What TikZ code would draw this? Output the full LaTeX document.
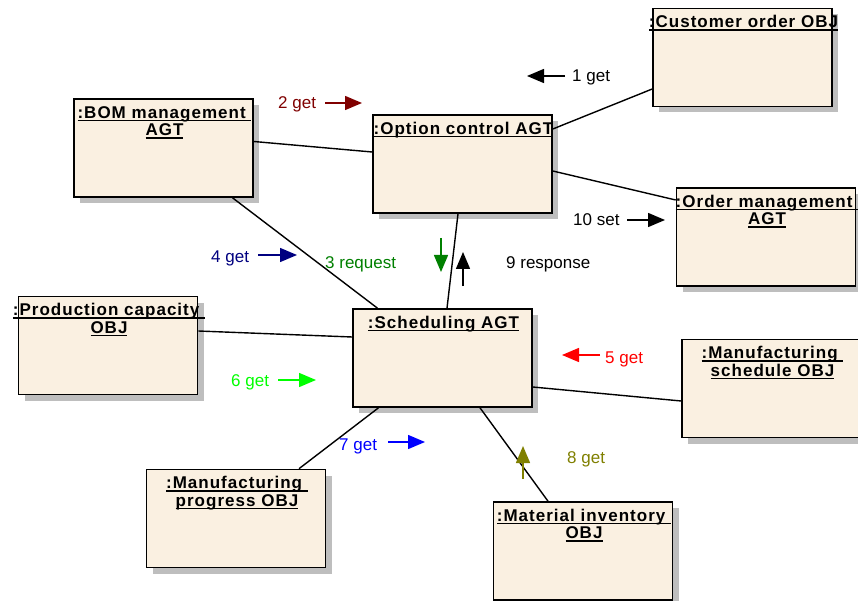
\documentclass[tikz,border=0pt]{standalone}
\usepackage{fontspec}
\setmainfont{Liberation Sans}
\newfontfamily\titlefont[LetterSpace=6]{Liberation Sans}
\usetikzlibrary{arrows.meta,shadows}

\definecolor{boxfill}{RGB}{250,240,225}
\definecolor{shadowgray}{RGB}{190,190,190}
\definecolor{msgdarkred}{RGB}{128,0,0}
\definecolor{msggreen}{RGB}{0,128,0}
\definecolor{msgnavy}{RGB}{0,0,128}
\definecolor{msgred}{RGB}{255,0,0}
\definecolor{msglime}{RGB}{0,255,0}
\definecolor{msgblue}{RGB}{0,0,255}
\definecolor{msgolive}{RGB}{128,128,0}

% underlined title line (rule drawn just below the baseline)
\newsavebox\ulbox
\newcommand\ulline[1]{\sbox\ulbox{#1}\rlap{\usebox\ulbox}\rule[-3pt]{\wd\ulbox}{1.3pt}}

\tikzset{
  objbox/.style={draw=black, line width=1.6pt, fill=boxfill,
    minimum width=179pt, minimum height=98pt, inner sep=0pt,
    drop shadow={shadow xshift=6pt, shadow yshift=-6pt, fill=shadowgray, opacity=1}},
  ttl/.style={anchor=base, inner sep=0pt, font=\titlefont\bfseries\fontsize{17}{18}\selectfont},
  link/.style={line width=1.4pt},
  msg/.style={line width=1.5pt, -{Triangle[length=17pt,width=14pt]}},
  lbl/.style={anchor=base west, inner sep=0pt, font=\fontsize{17}{19}\selectfont},
}

\begin{document}
\begin{tikzpicture}[x=1pt,y=-1pt]
\fill[white] (0,0) rectangle (858,601);
\useasboundingbox (0,0) rectangle (858,601);

% ---------- object boxes ----------
\node[objbox] (cust)  at (742.5,57.5) {};
\node[objbox] (bom)   at (163.5,148)  {};
\node[objbox] (opt)   at (462.5,164)  {};
\node[objbox] (ord)   at (766,237)    {};
\node[objbox] (prod)  at (108,345.5)  {};
\node[objbox] (sched) at (442.5,358)  {};
\node[objbox] (msch)  at (771.5,388.5){};
\node[objbox] (mprog) at (236,518.5)  {};
\node[objbox] (minv)  at (583,551)    {};

% ---------- titles ----------
\node[ttl] (custT1)  at ([shift={(1,20)}]cust.north)  {\ulline{:Customer order OBJ}};
\node[ttl] (bomT1)   at ([shift={(1,20)}]bom.north)   {\ulline{:BOM management\ }};
\node[ttl] (bomT2)   at ([shift={(1,37.5)}]bom.north) {\ulline{AGT}};
\node[ttl] (optT1)   at ([shift={(1,20)}]opt.north)   {\ulline{:Option control AGT}};
\node[ttl] (ordT1)   at ([shift={(1,20)}]ord.north)   {\ulline{:Order management\ }};
\node[ttl] (ordT2)   at ([shift={(1,37.5)}]ord.north) {\ulline{AGT}};
\node[ttl] (prodT1)  at ([shift={(1,20)}]prod.north)  {\ulline{:Production capacity\ }};
\node[ttl] (prodT2)  at ([shift={(1,37.5)}]prod.north){\ulline{OBJ}};
\node[ttl] (schedT1) at ([shift={(1,20)}]sched.north) {\ulline{:Scheduling AGT}};
\node[ttl] (mschT1)  at ([shift={(1,20)}]msch.north)  {\ulline{:Manufacturing\ }};
\node[ttl] (mschT2)  at ([shift={(1,37.5)}]msch.north){\ulline{schedule OBJ}};
\node[ttl] (mprogT1) at ([shift={(1,20)}]mprog.north) {\ulline{:Manufacturing\ }};
\node[ttl] (mprogT2) at ([shift={(1,37.5)}]mprog.north){\ulline{progress OBJ}};
\node[ttl] (minvT1)  at ([shift={(1,20)}]minv.north)  {\ulline{:Material inventory\ }};
\node[ttl] (minvT2)  at ([shift={(1,37.5)}]minv.north){\ulline{OBJ}};

% ---------- links ----------
\draw[link] ([shift={(0,31.5)}]cust.west) -- ([shift={(0,-35)}]opt.east);
\draw[link] ([shift={(0,-6.5)}]bom.east) -- ([shift={(0,-12)}]opt.west);
\draw[link] ([shift={(0,7)}]opt.east) -- ([shift={(0,-37)}]ord.west);
\draw[link] ([shift={(69,0)}]bom.south) -- ([shift={(-65,0)}]sched.north);
\draw[link] ([shift={(-4.5,0)}]opt.south) -- ([shift={(4.5,0)}]sched.north);
\draw[link] ([shift={(0,-14.5)}]prod.east) -- ([shift={(0,-21)}]sched.west);
\draw[link] ([shift={(0,29)}]sched.east) -- ([shift={(0,12.5)}]msch.west);
\draw[link] ([shift={(-64,0)}]sched.south) -- ([shift={(63,0)}]mprog.north);
\draw[link] ([shift={(37.5,0)}]sched.south) -- ([shift={(-35,0)}]minv.north);

% ---------- messages ----------
\coordinate (m1s) at (565,76);  \coordinate (m1e) at (527,76);
\coordinate (m2s) at (325,103); \coordinate (m2e) at (362,103);
\coordinate (m3s) at (441,238); \coordinate (m3e) at (441,272);
\coordinate (m4s) at (258,255); \coordinate (m4e) at (297,255);
\coordinate (m5s) at (600,355); \coordinate (m5e) at (562,355);
\coordinate (m6s) at (278,380); \coordinate (m6e) at (316,380);
\coordinate (m7s) at (388,442); \coordinate (m7e) at (425,442);
\coordinate (m8s) at (523,479); \coordinate (m8e) at (523,446);
\coordinate (m9s) at (463,286); \coordinate (m9e) at (463,252);
\coordinate (m10s) at (627,220); \coordinate (m10e) at (665,220);

\draw[msg, black]       (m1s) -- (m1e);
\draw[msg, msgdarkred]  (m2s) -- (m2e);
\draw[msg, msggreen]    (m3s) -- (m3e);
\draw[msg, msgnavy]     (m4s) -- (m4e);
\draw[msg, msgred]      (m5s) -- (m5e);
\draw[msg, msglime]     (m6s) -- (m6e);
\draw[msg, msgblue]     (m7s) -- (m7e);
\draw[msg, msgolive]    (m8s) -- (m8e);
\draw[msg, black]       (m9s) -- (m9e);
\draw[msg, black]       (m10s) -- (m10e);

\node[lbl, black]      (l1)  at (572,82)  {1 get};
\node[lbl, msgdarkred] (l2)  at (278,109) {2 get};
\node[lbl, msggreen]   (l3)  at (325,269) {3 request};
\node[lbl, msgnavy]    (l4)  at (211,262) {4 get};
\node[lbl, msgred]     (l5)  at (605,363) {5 get};
\node[lbl, msglime]    (l6)  at (231,386) {6 get};
\node[lbl, msgblue]    (l7)  at (339,450) {7 get};
\node[lbl, msgolive]   (l8)  at (567,463) {8 get};
\node[lbl, black]      (l9)  at (506,269) {9 response};
\node[lbl, black]      (l10) at (573,226) {10 set};
\end{tikzpicture}
\end{document}
